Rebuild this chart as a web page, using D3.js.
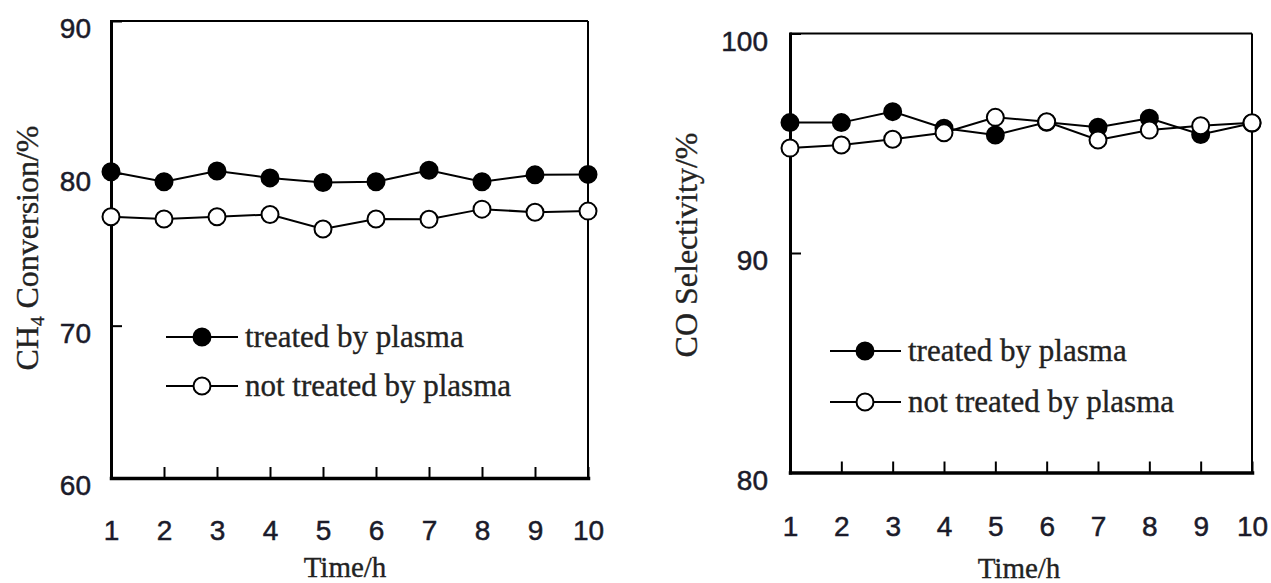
<!DOCTYPE html>
<html>
<head>
<meta charset="utf-8">
<script src="https://cdn.jsdelivr.net/npm/d3@7"></script>
<style>
  html, body { margin: 0; padding: 0; background: #fff; }
  svg { display: block; }
  .tick-label { font-family: "Liberation Sans", Arial, sans-serif; fill: #1b1b2a; stroke: #1b1b2a; stroke-width: 0.5px; }
  .serif { font-family: "Liberation Serif", "Times New Roman", serif; fill: #222; stroke: #222; stroke-width: 0.35px; }
</style>
</head>
<body>
<svg id="chart" width="1271" height="583"></svg>
<script>
// Time on stream (h)
const times = [1, 2, 3, 4, 5, 6, 7, 8, 9, 10];

// CH4 conversion (%)
const ch4Treated   = [80.1, 79.45, 80.15, 79.7, 79.4, 79.45, 80.2, 79.45, 79.9, 79.93];
const ch4Untreated = [77.15, 77.0, 77.15, 77.3, 76.35, 77.0, 76.98, 77.65, 77.45, 77.52];
const ch4Ticks = [60, 70, 80, 90];

// CO selectivity (%)
const coTreated   = [95.94, 95.94, 96.44, 95.68, 95.38, 95.96, 95.73, 96.14, 95.4, 95.91];
const coUntreated = [94.78, 94.92, 95.18, 95.48, 96.18, 95.98, 95.15, 95.6, 95.8, 95.93];
const coTicks = [80, 90, 100];

const seriesNames = ["treated by plasma", "not treated by plasma"];

const svg = d3.select("#chart");

const panels = [
  {
    left: 111, right: 588, top: 21, bottom: 478,
    domain: [60, 90], ticks: ch4Ticks,
    treated: ch4Treated, untreated: ch4Untreated,
    xPad: 42, yPad: 20,
    titleX: 27, titleY: 248,
    xTitleX: 345, xTitleY: 577,
    legend: { x1: 166, x2: 238, mx: 202, y1: 337, y2: 386, tx: 245 },
    ytitle: "ch4"
  },
  {
    left: 790, right: 1252, top: 33.5, bottom: 472.5,
    domain: [80, 100], ticks: coTicks,
    treated: coTreated, untreated: coUntreated,
    xPad: 44, yPad: 22,
    titleX: 686, titleY: 245,
    xTitleX: 1019, xTitleY: 578,
    legend: { x1: 830, x2: 901, mx: 865, y1: 351, y2: 402, tx: 908 },
    ytitle: "co"
  }
];

panels.forEach(p => {
  const x = d3.scaleLinear().domain([1, 10]).range([p.left, p.right]);
  const y = d3.scaleLinear().domain(p.domain).range([p.bottom, p.top]);
  const g = svg.append("g");

  // top and right frame lines
  g.append("line").attr("x1", p.left).attr("x2", p.right).attr("y1", p.top).attr("y2", p.top)
    .attr("stroke", "#000").attr("stroke-width", 2);
  g.append("line").attr("x1", p.right).attr("x2", p.right).attr("y1", p.top).attr("y2", p.bottom)
    .attr("stroke", "#000").attr("stroke-width", 2);

  // x axis with inward ticks
  const xAxis = g.append("g")
    .attr("transform", `translate(0,${p.bottom})`)
    .call(d3.axisBottom(x).tickValues(times).tickFormat(d3.format("d"))
      .tickSizeInner(-11).tickSizeOuter(0).tickPadding(p.xPad));
  xAxis.select(".domain").attr("stroke-width", 3.5).attr("stroke", "#000");
  xAxis.selectAll(".tick line").attr("stroke-width", 2);
  xAxis.selectAll("text").attr("class", "tick-label").attr("font-size", 28);

  // y axis with inward ticks
  const yAxis = g.append("g")
    .attr("transform", `translate(${p.left},0)`)
    .call(d3.axisLeft(y).tickValues(p.ticks).tickFormat(d3.format("d"))
      .tickSizeInner(-11).tickSizeOuter(0).tickPadding(p.yPad));
  yAxis.select(".domain").attr("stroke-width", 3).attr("stroke", "#000");
  yAxis.selectAll(".tick line").attr("stroke-width", 2);
  yAxis.selectAll("text").attr("class", "tick-label").attr("font-size", 28).attr("y", 8);
  svg.selectAll(".domain").attr("stroke-linecap", "square");

  const line = d3.line().x((d, i) => x(times[i])).y(d => y(d));

  const drawSeries = (vals, fill) => {
    g.append("path").datum(vals).attr("d", line)
      .attr("fill", "none").attr("stroke", "#000").attr("stroke-width", 2);
    g.selectAll(null).data(vals).enter().append("circle")
      .attr("cx", (d, i) => x(times[i])).attr("cy", d => y(d)).attr("r", 8.5)
      .attr("fill", fill).attr("stroke", "#000").attr("stroke-width", 2);
  };
  drawSeries(p.treated, "#000");
  drawSeries(p.untreated, "#fff");

  // legend
  const L = p.legend;
  [[L.y1, "#000", seriesNames[0]], [L.y2, "#fff", seriesNames[1]]].forEach(([ly, fill, name]) => {
    g.append("line").attr("x1", L.x1).attr("x2", L.x2).attr("y1", ly).attr("y2", ly)
      .attr("stroke", "#000").attr("stroke-width", 2);
    g.append("circle").attr("cx", L.mx).attr("cy", ly).attr("r", 8.5)
      .attr("fill", fill).attr("stroke", "#000").attr("stroke-width", 2);
    g.append("text").attr("class", "serif").attr("x", L.tx).attr("y", ly + 10)
      .attr("font-size", 31).text(name);
  });

  // x title
  g.append("text").attr("class", "serif").attr("x", p.xTitleX).attr("y", p.xTitleY)
    .attr("text-anchor", "middle").attr("font-size", 29).text("Time/h");

  // y title (rotated)
  const yt = g.append("text").attr("class", "serif")
    .attr("transform", `translate(${p.titleX + 11},${p.titleY}) rotate(-90)`)
    .attr("text-anchor", "middle").attr("font-size", 32);
  if (p.ytitle === "ch4") {
    yt.append("tspan").text("CH");
    yt.append("tspan").attr("font-size", 19).attr("dy", 6).text("4");
    yt.append("tspan").attr("dy", -6).text(" Conversion/%");
  } else {
    yt.text("CO Selectivity/%");
  }
});
</script>
</body>
</html>
